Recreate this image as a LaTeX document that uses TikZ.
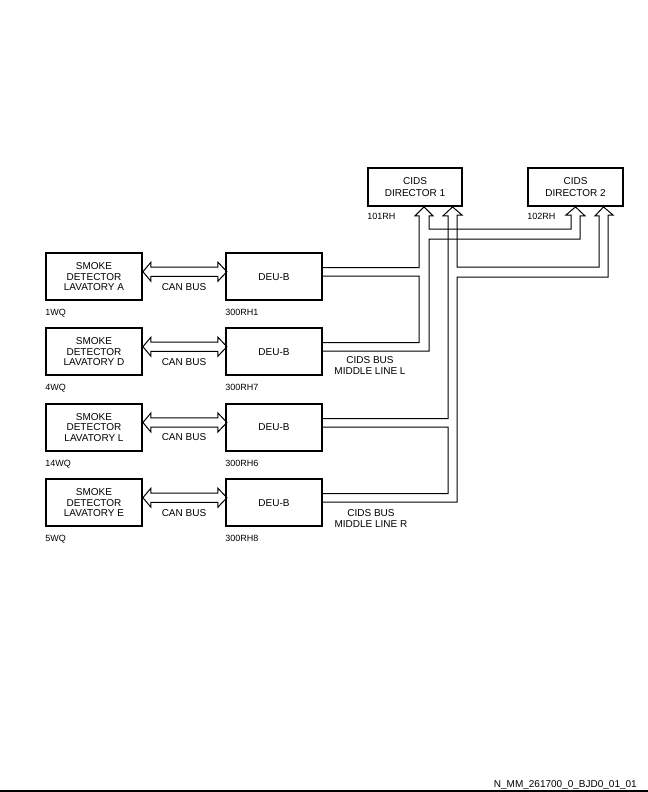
\documentclass[tikz,border=0pt]{standalone}
\usepackage{fontspec}
\setmainfont{Liberation Sans}
\usetikzlibrary{calc}
\begin{document}
\begin{tikzpicture}[x=1bp,y=-1bp,
		unit/.style={draw, line width=1.8bp, minimum width=96bp, minimum height=47bp, inner sep=0pt, align=center, font=\fontsize{10bp}{10.3bp}\selectfont},
		director/.style={unit, minimum width=94bp, minimum height=38bp, font=\fontsize{10bp}{12bp}\selectfont},
		ref/.style={anchor=north west, inner sep=0pt, font=\fontsize{9bp}{10bp}\selectfont},
		wire/.style={line width=1bp},
		txt/.style={inner sep=0pt, align=center, font=\fontsize{10bp}{11bp}\selectfont}]
		\useasboundingbox (0,0) rectangle (648,792);
		\node[director] (dir1) at (415,187) {CIDS\\DIRECTOR 1};
		\node[director, minimum width=95bp] (dir2) at (575.5,187) {CIDS\\DIRECTOR 2};
		\node[ref] at ([yshift=-6bp]dir1.south west) {101RH};
		\node[ref] at ([yshift=-6bp]dir2.south west) {102RH};
		\coordinate (tipL) at ([xshift=9bp]dir1.south);
		\coordinate (tipR) at ([xshift=37.5bp]dir1.south);
		\coordinate (tip2L) at (dir2.south);
		\coordinate (tip2R) at ([xshift=28bp]dir2.south);
		% lavatory smoke detectors and DEU-B
		\foreach \y/\n/\lav/\wq/\rh in {276.7/1/A/1WQ/300RH1, 351.7/2/D/4WQ/300RH7, 427.5/3/L/14WQ/300RH6, 502.7/4/E/5WQ/300RH8}{
			\node[unit] (sd\n) at (94,\y) {SMOKE\\DETECTOR\\LAVATORY \lav};
			\node[unit] (deu\n) at (274,\y) {DEU-B};
			\node[ref] at ([yshift=-8bp]sd\n.south west) {\wq};
			\node[ref] at ([yshift=-8bp]deu\n.south west) {\rh};
			\node[txt] at ([yshift=-10bp]$(sd\n.east)!0.5!(deu\n.west)$) {CAN BUS};
			\draw[wire] ([yshift=5bp]sd\n.east) -- ++(8,-9.5) -- ++(0,4.8) -- ++(67,0) -- ++(0,-4.8) -- ++(9,9.5) -- ++(-9,9.5) -- ++(0,-4.8) -- ++(-67,0) -- ++(0,4.8) -- cycle;
		}
		% CIDS bus middle line L
		\draw[wire] ([yshift=9bp]deu1.east) -| ([xshift=-5bp,yshift=-9bp]tipL) -- ++(-4,0) -- (tipL) -- ++(9,9) -- ++(-4,0) |- (571,229) -- ++(0,-14) -- ++(-5,0) -- (tip2L) -- ++(9.5,9) -- ++(-5,0) |- (429,239) |- ([yshift=0.5bp]deu2.east);
		\draw[wire] ([yshift=0.5bp]deu1.east) -| (419,342.7) -- ([yshift=9bp]deu2.east);
		\node[txt] at (370,366) {CIDS BUS\\MIDDLE LINE L};
		% CIDS bus middle line R
		\draw[wire] ([yshift=0.5bp]deu4.east) -| (457,277) -| (608,215) -- ++(5,0) -- (tip2R) -- ++(-8.5,9) -- ++(4,0) |- (457,267) -- ++(0,-52) -- ++(5,0) -- (tipR) -- ++(-9.5,9) -- ++(5,0) |- ([yshift=9bp]deu3.east);
		\draw[wire] ([yshift=0.5bp]deu3.east) -| (448,493.7) -- ([yshift=9bp]deu4.east);
		\node[txt] at (371,518.5) {CIDS BUS\\MIDDLE LINE R};
		\node[anchor=east, inner sep=0pt, font=\fontsize{10bp}{12bp}\selectfont] (fig) at (637,784.5) {N\_MM\_261700\_0\_BJD0\_01\_01};
		\draw[line width=1.5bp] (0,791) -- (648,791);
	\end{tikzpicture}
\end{document}
